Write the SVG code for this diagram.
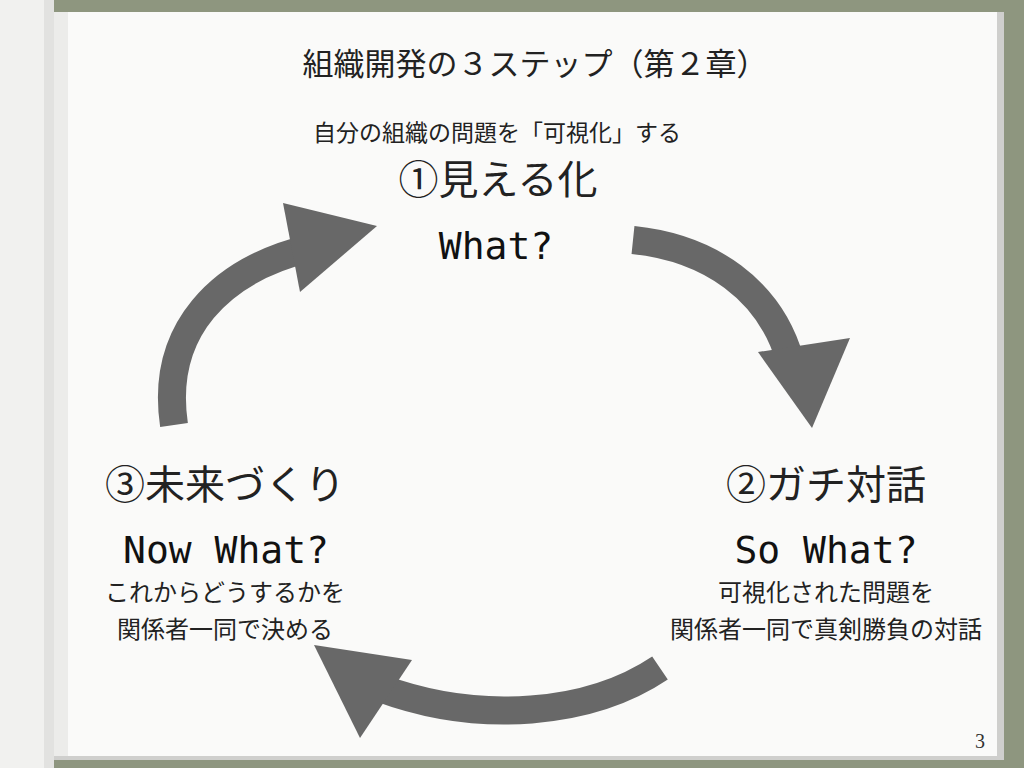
<svg xmlns="http://www.w3.org/2000/svg" width="1024" height="768" viewBox="0 0 1024 768">
<style>
.t{font-family:"Noto Sans CJK JP","Liberation Sans",sans-serif;fill:#222;text-anchor:middle}
.e{font-family:"DejaVu Sans Mono","Liberation Mono",monospace;fill:#111;text-anchor:middle}
.arr{fill:none;stroke:#686868;stroke-width:28}
.head{fill:#686868}
</style>
<rect width="1024" height="768" fill="#8e967f"/>
<rect x="0" y="0" width="54" height="768" fill="#f1f1ef"/>
<rect x="44" y="0" width="10" height="768" fill="#e2e2e0"/>
<rect x="54" y="12" width="950" height="748" fill="#cfcfcd"/>
<rect x="54" y="12" width="943" height="744" fill="#fafaf9"/>
<rect x="54" y="12" width="14" height="744" fill="#ececea"/>
<text class="t" x="535" y="75" font-size="31" fill="#444">組織開発の３ステップ（第２章）</text>
<g id="n1">
<text class="t" x="497" y="141" font-size="23">自分の組織の問題を「可視化」する</text>
<text class="t" x="498" y="194" font-size="40">①見える化</text>
<text class="e" x="496" y="259" font-size="38">What?</text>
</g>
<g id="n2">
<text class="t" x="826" y="499" font-size="40">②ガチ対話</text>
<text class="e" x="826" y="563" font-size="38">So What?</text>
<text class="t" x="826" y="601" font-size="24">可視化された問題を</text>
<text class="t" x="826" y="638" font-size="24">関係者一同で真剣勝負の対話</text>
</g>
<g id="n3">
<text class="t" x="225" y="499" font-size="40">③未来づくり</text>
<text class="e" x="226" y="563" font-size="38">Now What?</text>
<text class="t" x="225" y="601" font-size="24">これからどうするかを</text>
<text class="t" x="225" y="638" font-size="24">関係者一同で決める</text>
</g>
<g id="connectors">
<path class="arr" d="M633,240 C710,248 770,290 790,360"/>
<polygon class="head" points="758,352 850,338 812,428"/>
<path class="arr" d="M174,425 C160,330 220,270 310,248"/>
<polygon class="head" points="283,203 377,226 300,292"/>
<path class="arr" d="M660,668 C590,715 480,725 380,688"/>
<polygon class="head" points="412,660 360,738 314,645"/>
</g>
<text x="980" y="748" font-family="Liberation Serif,serif" font-size="20" fill="#333" text-anchor="middle">3</text>
</svg>
